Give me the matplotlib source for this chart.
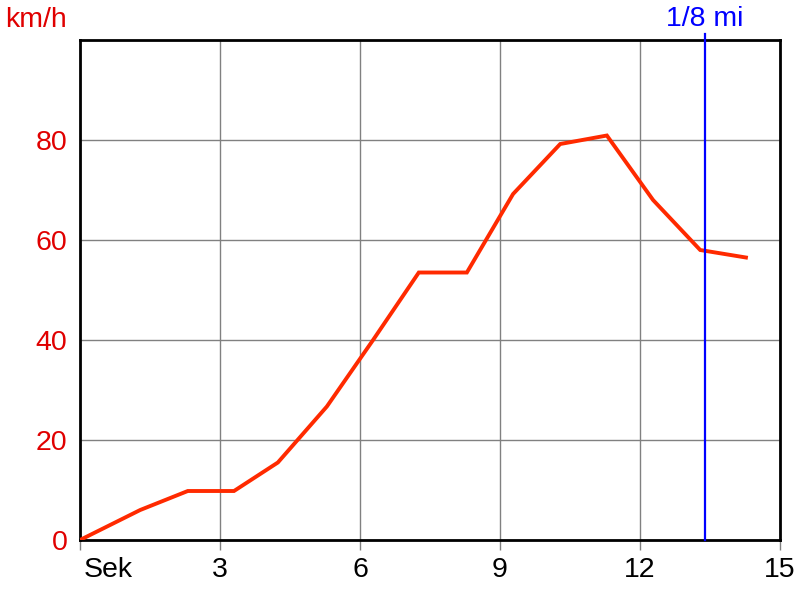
import matplotlib
matplotlib.use("Agg")
import matplotlib.pyplot as plt
from matplotlib.transforms import ScaledTranslation

plt.rcParams['font.family'] = ['Liberation Sans', 'DejaVu Sans']

time_s = [0, 1.29, 2.31, 3.30, 4.24, 5.29, 6.28, 7.26, 8.29, 9.28, 10.29, 11.29, 12.28, 13.29, 14.27]
speed_kmh = [0, 6.0, 9.8, 9.8, 15.5, 26.7, 40, 53.5, 53.5, 69.2, 79.2, 80.9, 68, 58, 56.5]
marker_x = 13.39
marker_label = "1/8 mi"
x_ticks = [0, 3, 6, 9, 12, 15]
x_labels = ["Sek", "3", "6", "9", "12", "15"]
y_ticks = [0, 20, 40, 60, 80]

FS = 20.5

fig = plt.figure(figsize=(8, 6), dpi=100)
ax = fig.add_axes([0.1, 0.1, 0.875, 0.8333])
ax.set_xlim(0, 15)
ax.set_ylim(0, 100)

ax.grid(True, color='#808080', linewidth=1.0)
ax.set_axisbelow(True)

ax.plot(time_s, speed_kmh, color='#FF2A00', linewidth=2.8, solid_joinstyle='miter', zorder=3)
ax.axvline(marker_x, color='#0000FF', linewidth=1.6, ymax=1.013, clip_on=False, zorder=4)

for s in ax.spines.values():
    s.set_color('black')
    s.set_linewidth(2)

ax.set_xticks(x_ticks)
ax.set_xticklabels(x_labels, fontsize=FS)
ax.set_yticks(y_ticks)
ax.set_yticklabels([str(v) for v in y_ticks], fontsize=FS, color='#E00000')
ax.tick_params(axis='x', length=7, width=1, color='#808080', pad=5)
ax.tick_params(axis='y', length=0, pad=9)
for lbl in ax.get_xticklabels():
    if lbl.get_text() == "Sek":
        lbl.set_horizontalalignment('left')
        lbl.set_transform(lbl.get_transform() + ScaledTranslation(0.04, 0, fig.dpi_scale_trans))

fig.text(0.006, 0.967, "km/h", color='#E00000', fontsize=FS, ha='left', va='center')
ax.text(marker_x, 1.043, marker_label, transform=ax.get_xaxis_transform(), color='#0000FF',
        fontsize=FS, ha='center', va='center')

fig.savefig("out.png", dpi=100)
